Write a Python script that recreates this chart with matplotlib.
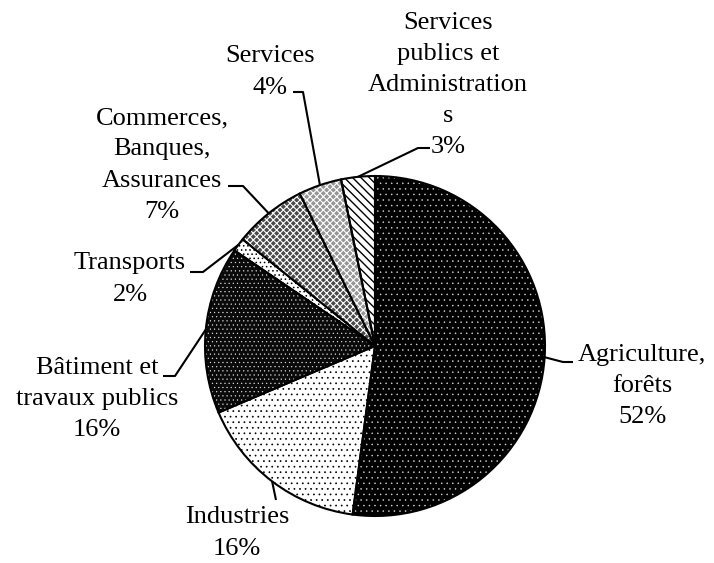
import matplotlib.pyplot as plt
import numpy as np
from matplotlib.patches import Wedge

plt.rcParams["font.family"] = ["Liberation Serif", "DejaVu Serif"]
plt.rcParams["hatch.linewidth"] = 0.5

# Répartition des emplois par secteur
sectors = [
    "Agriculture,\nforêts",
    "Industries",
    "Bâtiment et\ntravaux publics",
    "Transports",
    "Commerces,\nBanques,\nAssurances",
    "Services",
    "Services\npublics et\nAdministration\ns",
]
shares = [52.1, 16.5, 15.9, 1.3, 6.9, 4.1, 3.2]
pct_labels = ["52%", "16%", "16%", "2%", "7%", "4%", "3%"]

# fill style of each slice: face colour, hatch, hatch colour
FACE = ["black", "white", "#0a0a0a", "white", "#4a4a4a", "#969696", "white"]
HATCH = ["...", "...", "....", "....", "xxxxx", "xxxxx", "\\\\\\\\"]
HATCH_COLOR = ["#e0e0e0", "black", "#e0e0e0", "black", "white", "white", "black"]
HATCH_LW = [0.3, 0.5, 0.35, 0.6, 0.8, 0.8, 1.0]

# label block centre (px from left, px from top)
LABEL_POS = [(642, 386), (237, 533), (97, 399), (130, 279),
             (162, 165), (270, 72), (448, 85)]
# leader line: elbow (x, y from top) and end x of the short horizontal
LEADERS = [(563, 362, 573), (276, 500, 276), (175, 376, 163), (203, 272, 190),
           (243, 186, 228), (303, 92, 293), (418, 148, 430)]

W, H = 714, 563
CENTER = (375, H - 346)
R = 170

fig = plt.figure(figsize=(W / 100, H / 100), dpi=100)
ax = fig.add_axes([0, 0, 1, 1])

wedges, _ = ax.pie(shares, startangle=90, counterclock=False, center=CENTER,
                   radius=R, colors=FACE, wedgeprops=dict(linewidth=0))

for w, h, hc, hlw in zip(wedges, HATCH, HATCH_COLOR, HATCH_LW):
    with plt.rc_context({"hatch.linewidth": hlw}):
        ax.add_patch(Wedge(w.center, w.r, w.theta1, w.theta2, fill=False,
                           hatch=h, edgecolor=hc, linewidth=0))
    ax.add_patch(Wedge(w.center, w.r, w.theta1, w.theta2, fill=False,
                       edgecolor="black", linewidth=1.5))

for w, name, pct, (lx, ly), (ex, ey, endx) in zip(wedges, sectors, pct_labels,
                                                  LABEL_POS, LEADERS):
    mid = np.deg2rad((w.theta1 + w.theta2) / 2)
    px = CENTER[0] + R * np.cos(mid)
    py = CENTER[1] + R * np.sin(mid)
    ax.plot([px, ex, endx], [py, H - ey, H - ey], color="black", lw=1.5,
            solid_capstyle="butt")
    ax.text(lx, H - ly, name + "\n" + pct, ha="center", va="center",
            fontsize=19, linespacing=1.53, color="black")

ax.set_xlim(0, W)
ax.set_ylim(0, H)
ax.axis("off")

fig.savefig("out.png", dpi=100)
